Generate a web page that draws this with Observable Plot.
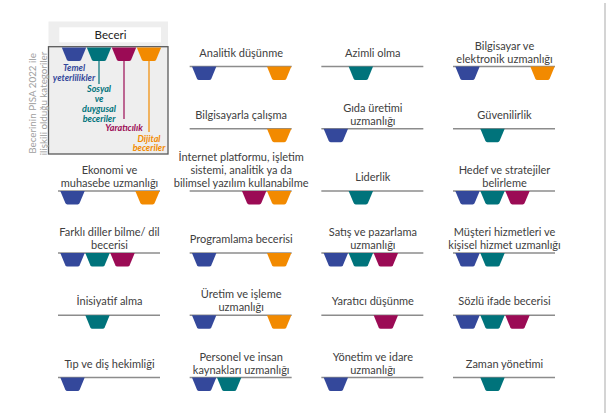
<!DOCTYPE html>
<html><head><meta charset="utf-8">
<script src="https://cdn.jsdelivr.net/npm/d3@7"></script>
<script src="https://cdn.jsdelivr.net/npm/@observablehq/plot@0.6"></script>
<style>
body{margin:0;background:#fff;font-family:Lato,sans-serif}
#chart{position:relative;width:609px;height:418px}
#chart svg{position:absolute;left:0;top:0}
#edge{position:absolute;left:604px;top:3px;width:2px;height:410px;background:#d4d4d4}
</style></head><body>
<div id="chart"><div id="edge"></div></div>
<script>
// ---- data ----
const categories = ["Temel yeterlilikler", "Sosyal ve duygusal beceriler", "Yaratıcılık", "Dijital beceriler"];
const categoryColors = ["#34489b", "#00737b", "#9b0b55", "#f28a00"];
const legendLabels = ["Temel\nyeterlilikler", "Sosyal\nve\nduygusal\nbeceriler", "Yaratıcılık", "Dijital\nbeceriler"];
const legendHeader = "Beceri";
const axisNote = "Becerinin PISA 2022 ile\nilişkili olduğu kategoriler";
const skills = [
  "Analitik düşünme", "Azimli olma", "Bilgisayar ve\nelektronik uzmanlığı",
  "Bilgisayarla çalışma", "Gıda üretimi\nuzmanlığı", "Güvenilirlik",
  "Ekonomi ve\nmuhasebe uzmanlığı", "İnternet platformu, işletim\nsistemi, analitik ya da\nbilimsel yazılım kullanabilme", "Liderlik", "Hedef ve stratejiler\nbelirleme",
  "Farklı diller bilme/ dil\nbecerisi", "Programlama becerisi", "Satış ve pazarlama\nuzmanlığı", "Müşteri hizmetleri ve\nkişisel hizmet uzmanlığı",
  "İnisiyatif alma", "Üretim ve işleme\nuzmanlığı", "Yaratıcı düşünme", "Sözlü ifade becerisi",
  "Tıp ve diş hekimliği", "Personel ve insan\nkaynakları uzmanlığı", "Yönetim ve idare\nuzmanlığı", "Zaman yönetimi"
];
// indices into categories
const skillCategories = [
  [0, 3], [1], [0, 3],
  [3], [0], [1],
  [0, 3], [2, 3], [1], [0, 1, 2],
  [0, 1, 2], [0, 3], [0, 1, 2], [0, 1],
  [1], [0, 3], [2], [0, 1, 2],
  [0], [0, 1], [0], [1]
];

// ---- layout: 4 columns x 6 rows, legend occupies first two cells of column 0 ----
const nCols = 4, nRows = 6;
const cells = [];
for (let r = 0; r < nRows; r++) for (let c = 0; c < nCols; c++) if (!(c === 0 && r < 2)) cells.push({col: c, row: r});
const panels = skills.map((title, i) => ({title, col: cells[i].col, row: cells[i].row, lines: title.split("\n").length}));
const links = panels.flatMap((p, i) => skillCategories[i].map(k => ({col: p.col, row: p.row, category: categories[k]})));
const legendCell = [{col: 0, row: 0}];
const legendItems = categories.map((category, i) => ({col: 0, row: 0, category, label: legendLabels[i]}));

const trapezoid = {
  draw(ctx) {
    ctx.moveTo(-12.2, 0);
    ctx.lineTo(12.2, 0);
    ctx.arcTo(6.6, 13.5, -6.6, 13.5, 2.2);
    ctx.arcTo(-6.6, 13.5, -12.2, 0, 2.2);
    ctx.closePath();
  }
};
const zero = () => 0;
const F = {fx: "col", fy: "row"};
const leaderInsetBottom = [0, -18, -53, -66];
const labelDy = [-2.6, 18.7, 57.4, 68];

const plot = Plot.plot({
  width: 609, height: 418,
  marginLeft: 58, marginRight: 54, marginTop: 34.9, marginBottom: 41,
  facet: {marginTop: 0, marginRight: 0, marginBottom: 0, marginLeft: 0},
  fx: {domain: d3.range(nCols), paddingInner: 0.2253, paddingOuter: 0, round: false, axis: null},
  fy: {domain: d3.range(nRows), paddingInner: 0.5, paddingOuter: 0, round: false, axis: null},
  x: {type: "point", domain: categories, padding: 0.5, axis: null},
  y: {domain: [0, 1], axis: null},
  color: {domain: categories, range: categoryColors},
  style: {fontFamily: "Lato, sans-serif", color: "#333", background: "transparent", overflow: "visible"},
  marks: [
    // legend box
    Plot.rect(legendCell, {...F, fill: "#eeeeee", insetLeft: -9.5, insetRight: -8, insetTop: -13.4, insetBottom: -88}),
    Plot.rect(legendCell, {...F, fill: "white", insetLeft: 1.3, insetRight: -1, insetTop: -7.6, insetBottom: 23.7}),
    Plot.rect(legendCell, {...F, fill: "none", stroke: "#5a5a5a", strokeWidth: 1.3, insetLeft: -9.5, insetRight: -8, insetTop: 11.8, insetBottom: -88}),
    Plot.text(legendCell, {...F, text: () => legendHeader, frameAnchor: "top", lineAnchor: "middle", dx: 1, dy: 0, fontSize: 11.5, fill: "#222"}),
    Plot.text(legendCell, {...F, text: () => axisNote, frameAnchor: "left", rotate: -90, textAnchor: "middle", lineAnchor: "middle", dx: -20.5, dy: 52.5, fontSize: 9.8, fill: "#a0a0a0", lineHeight: 1.12}),
    ...legendItems.slice(1).map((d, j) => Plot.ruleX([d], {...F, x: "category", stroke: "category", strokeWidth: 1.2, dx: 1.5, insetTop: 25.6, insetBottom: leaderInsetBottom[j + 1]})),
    Plot.dot(legendItems, {...F, x: "category", y: zero, fill: "category", stroke: "none", symbol: trapezoid, dx: 1.5, dy: -19}),
    ...legendItems.map((d, j) => Plot.text([d], {...F, x: "category", y: zero, text: "label", fill: "category", fontStyle: "italic", fontWeight: 700, fontSize: 9, lineHeight: 1.1, lineAnchor: "top", dx: 1.5, dy: labelDy[j]})),
    // panels
    Plot.ruleY(panels, {...F, y: zero, stroke: "#8c8c8c", strokeWidth: 1.5}),
    Plot.dot(links, {...F, x: "category", y: zero, fill: "category", stroke: "none", symbol: trapezoid}),
    Plot.text(panels.filter(p => p.lines === 1), {...F, text: "title", frameAnchor: "bottom", lineAnchor: "middle", dy: -13.5, fontSize: 11, fill: "#404040"}),
    Plot.text(panels.filter(p => p.lines > 1), {...F, text: "title", frameAnchor: "bottom", lineAnchor: "bottom", dy: -4, fontSize: 11, lineHeight: 1.18, fill: "#404040"})
  ]
});
document.getElementById("chart").appendChild(plot);
</script>
</body></html>
